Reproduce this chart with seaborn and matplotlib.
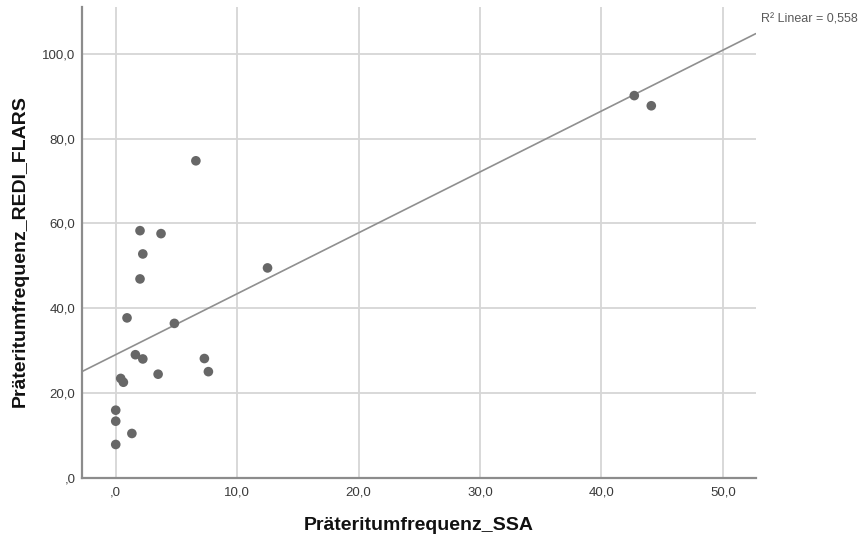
import numpy as np
import pandas as pd
import matplotlib
matplotlib.use("Agg")
import matplotlib.pyplot as plt
from matplotlib.ticker import FuncFormatter
import seaborn as sns

# Past-tense frequency per speaker: SSA corpus vs. REDI_FLARS
ssa = [0.0, 0.0, 0.0, 1.33, 0.41, 0.63, 0.93, 1.62, 2.23, 2.0, 2.23,
       2.0, 3.73, 3.49, 4.83, 6.6, 7.3, 7.63, 12.5, 42.7, 44.1]
redi_flars = [15.9, 13.3, 7.8, 10.4, 23.4, 22.5, 37.7, 29.0, 28.0, 46.9, 52.8,
              58.3, 57.6, 24.4, 36.4, 74.8, 28.1, 25.0, 49.5, 90.2, 87.8]

x_ticks = [0, 10, 20, 30, 40, 50]
y_ticks = [0, 20, 40, 60, 80, 100]

x_name = "Präteritumfrequenz_SSA"
y_name = "Präteritumfrequenz_REDI_FLARS"

df = pd.DataFrame({x_name: ssa, y_name: redi_flars})

sns.set_style("white")
plt.rcParams["font.family"] = ["Liberation Sans", "DejaVu Sans"]

fig = plt.figure(figsize=(8.63, 5.39), dpi=100)
ax = fig.add_axes([0.0954, 0.1141, 0.7803, 0.8735])

ax.set_xlim(-2.75, 52.7)
ax.set_ylim(0, 111.2)

sns.regplot(data=df, x=x_name, y=y_name, ax=ax, ci=None, truncate=False,
            scatter_kws=dict(s=48, color="#676767", edgecolor="none",
                             alpha=1, zorder=3),
            line_kws=dict(color="#8f8f8f", lw=1.2, zorder=2))

ax.set_xlim(-2.75, 52.7)
ax.set_ylim(0, 111.2)

# Least-squares fit for the R² annotation
slope, intercept = np.polyfit(df[x_name], df[y_name], 1)
r2 = np.corrcoef(df[x_name], df[y_name])[0, 1] ** 2


def spss_fmt(v, _pos=None):
    s = f"{v:.1f}".replace(".", ",")
    if s.startswith("0,"):
        s = s[1:]
    return s


ax.set_xticks(x_ticks)
ax.set_yticks(y_ticks)
ax.xaxis.set_major_formatter(FuncFormatter(spss_fmt))
ax.yaxis.set_major_formatter(FuncFormatter(spss_fmt))
ax.tick_params(axis="both", length=0, labelsize=9.5, labelcolor="#3a3a3a")
ax.tick_params(axis="x", pad=6.5)
ax.tick_params(axis="y", pad=5)

ax.grid(True, color="#d6d6d6", lw=1.3)
ax.set_axisbelow(True)

for side in ("top", "right"):
    ax.spines[side].set_visible(False)
for side in ("left", "bottom"):
    ax.spines[side].set_color("#8c8c8c")
    ax.spines[side].set_linewidth(1.6)

ax.set_xlabel(x_name, fontsize=14, fontweight="bold", color="#111111")
ax.set_ylabel(y_name, fontsize=14, fontweight="bold", color="#111111")
ax.xaxis.set_label_coords(0.5, -0.083)
ax.yaxis.set_label_coords(-0.079, 0.48)

x_end = ax.get_xlim()[1]
ax.annotate(f"R² Linear = {r2:.3f}".replace(".", ","),
            xy=(x_end, intercept + slope * x_end), xytext=(4, 10),
            textcoords="offset points", ha="left", va="center",
            fontsize=9, color="#5a5a5a", annotation_clip=False)

fig.savefig("out.png", dpi=100)
